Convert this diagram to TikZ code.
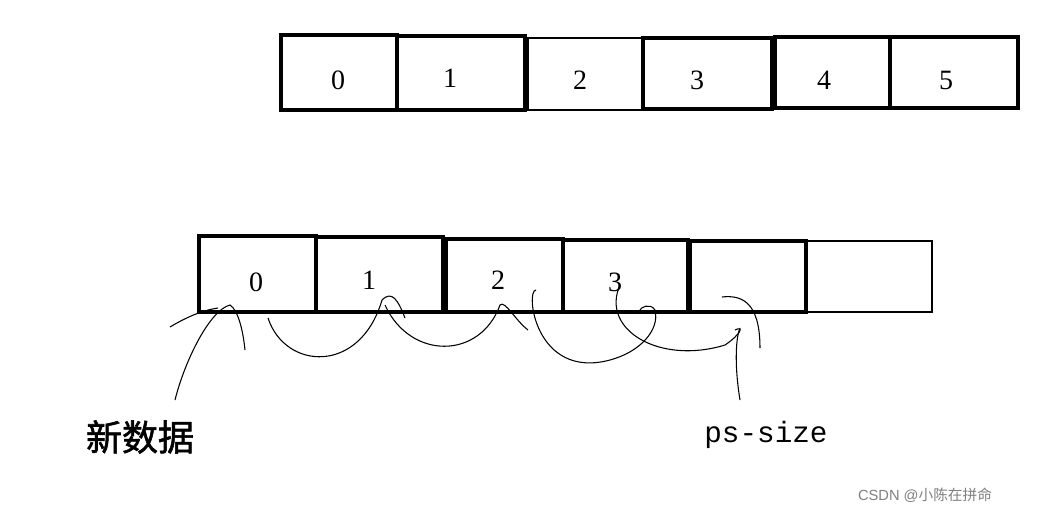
\documentclass[tikz,border=0pt]{standalone}
\usepackage{fontspec}
\setmainfont{Liberation Serif}
\newfontfamily\cjk{Noto Sans CJK SC}
\newfontfamily\cjkb[FakeBold=1.5]{Noto Sans CJK SC}
\newfontfamily\mono{Liberation Mono}
\newfontfamily\sans{Liberation Sans}
\begin{document}
\begin{tikzpicture}[x=0.75pt,y=-0.75pt,
  thk/.style={draw,line width=2.6pt},
  thn/.style={draw,line width=1.2pt},
  num/.style={font=\fontsize{21}{23}\selectfont},
  hand/.style={draw,line width=0.8pt}]
\useasboundingbox (0,0) rectangle (1040,515);
\fill[white] (0,0) rectangle (1040,515);
% top row
\draw[thk] (281,35) rectangle (397,110);
\draw[thk] (397,36) rectangle (525,110);
\draw[thn] (528,38) rectangle (643,110);
\draw[thk] (643,38) rectangle (772,109);
\draw[thk] (775,37) rectangle (890,108);
\draw[thk] (890,37) rectangle (1018,108);
\node[num] (t0) at (338,80) {0};
\node[num] (t1) at (450,78) {1};
\node[num] (t2) at (580,80) {2};
\node[num] (t3) at (697,80) {3};
\node[num] (t4) at (824,80) {4};
\node[num] (t5) at (946,80) {5};
% bottom row
\draw[thk] (199,236) rectangle (316,312);
\draw[thk] (316,237) rectangle (443,312);
\draw[thk] (446,239) rectangle (563,312);
\draw[thk] (563,240) rectangle (688,312);
\draw[thk] (690,241) rectangle (806,312);
\draw[thn] (806,241) rectangle (932,312);
\node[num] (b0) at (256,282) {0};
\node[num] (b1) at (369,280) {1};
\node[num] (b2) at (498,280) {2};
\node[num] (b3) at (615,282) {3};
% hand strokes
\draw[hand] (170,327) .. controls (190,315) and (205,310) .. (218,308);
\draw[hand] (175,400) .. controls (185,360) and (210,310) .. (230,305) .. controls (238,310) and (243,330) .. (245,350);
\draw[hand] (268,318) .. controls (285,370) and (360,375) .. (382,300) .. controls (392,290) and (398,300) .. (405,318);
\draw[hand] (385,305) .. controls (410,360) and (480,360) .. (500,305) .. controls (505,300) and (515,320) .. (528,330);
\draw[hand] (536,290) .. controls (525,290) and (535,380) .. (610,360) .. controls (640,352) and (660,330) .. (655,310) .. controls (650,302) and (640,308) .. (640,310);
\draw[hand] (620,285) .. controls (600,330) and (660,365) .. (725,345) .. controls (740,335) and (745,325) .. (735,330);
\draw[hand] (740,400) .. controls (735,370) and (735,340) .. (740,328);
\draw[hand] (722,297) .. controls (740,295) and (760,300) .. (760,348);
\node[font=\cjkb\fontsize{27}{29}\selectfont] (nd) at (140,437) {新数据};
\node[font=\mono\fontsize{22}{24}\selectfont] (ps) at (766,435) {ps-size};
\node[font=\sans\fontsize{11}{13}\selectfont,text=gray] (wm) at (925,495) {CSDN @\cjk 小陈在拼命};
\end{tikzpicture}
\end{document}
